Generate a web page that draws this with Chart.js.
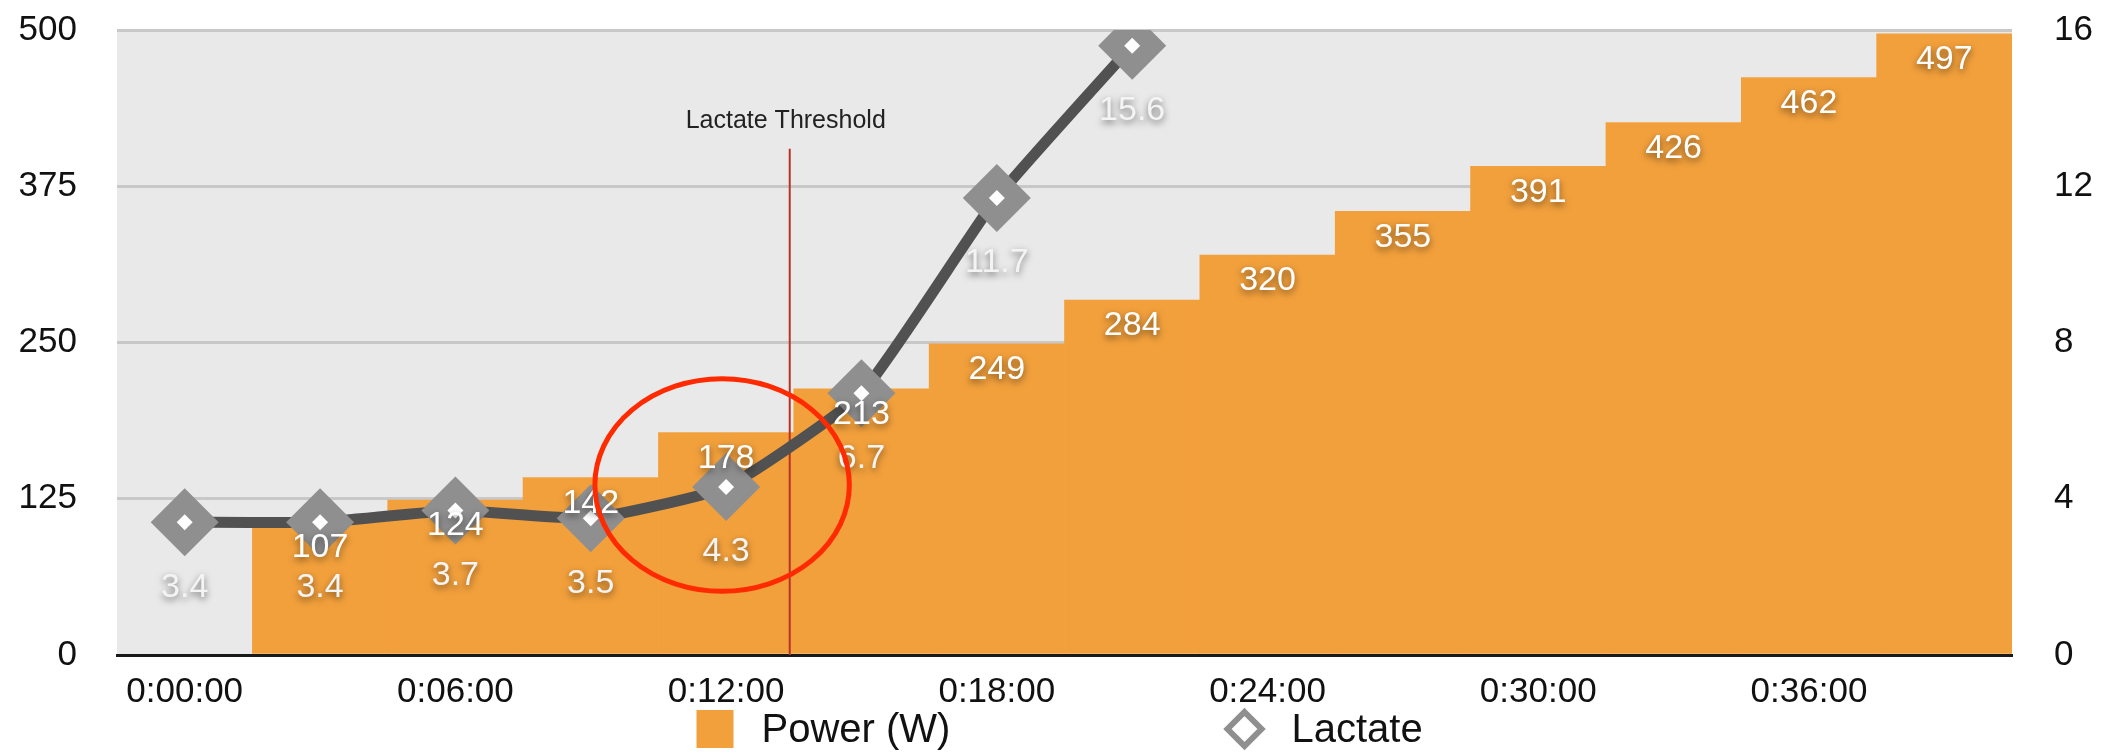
<!DOCTYPE html>
<html>
<head>
<meta charset="utf-8">
<script src="https://cdn.jsdelivr.net/npm/chart.js@4"></script>
<style>
  body { margin: 0; background: #fff; }
  #wrap { width: 2105px; height: 756px; }
</style>
</head>
<body>
<div id="wrap"><canvas id="chartCanvas"></canvas></div>
<script>
// time stamps of each step (3 min steps), only every other one is labelled
const times = ["0:00:00", "0:03:00", "0:06:00", "0:09:00", "0:12:00", "0:15:00", "0:18:00",
               "0:21:00", "0:24:00", "0:27:00", "0:30:00", "0:33:00", "0:36:00", "0:39:00"];
const power = [null, 107, 124, 142, 178, 213, 249, 284, 320, 355, 391, 426, 462, 497];
const lactate = [3.4, 3.4, 3.7, 3.5, 4.3, 6.7, 11.7, 15.6, null, null, null, null, null, null];
const powerTicks = [0, 125, 250, 375, 500];
const lactateTicks = [0, 4, 8, 12, 16];

// lactate threshold marker (category position) and the circled point
const thresholdAt = 4.47;
const thresholdTop = 405;
const thresholdLabel = "Lactate Threshold";
const circledPoint = 4;

const FONT = "'Liberation Sans', Arial, Helvetica, sans-serif";
const ORANGE = "#f2a03c";
const GREY = "#8f8f8f";

function shadowText(ctx, text, x, y, color) {
    ctx.save();
    ctx.shadowColor = "rgba(0,0,0,0.55)";
    ctx.shadowBlur = 7;
    ctx.shadowOffsetY = 3;
    ctx.fillStyle = color;
    ctx.fillText(text, x, y);
    ctx.restore();
}

// keep axis boxes to a fixed size, no extra label padding
function fixBox(w, h) {
    return s => {
        if (w) s.width = w;
        if (h) s.height = h;
        s.paddingTop = 0; s.paddingBottom = 0;
        s.paddingLeft = 0; s.paddingRight = 0;
    };
}

const extras = {
    id: "extras",
    beforeDraw(chart) {
        const { ctx, chartArea: a } = chart;
        ctx.save();
        ctx.fillStyle = "#e9e9e9";
        ctx.fillRect(a.left, a.top, a.right - a.left, a.bottom - a.top);
        ctx.restore();
    },
    afterDatasetDraw(chart, args) {
        if (args.index !== 0) return;
        // threshold line sits above the bars but under the lactate line
        const { ctx, scales } = chart;
        const x0 = scales.x.getPixelForValue(Math.floor(thresholdAt));
        const x1 = scales.x.getPixelForValue(Math.floor(thresholdAt) + 1);
        const x = x0 + (x1 - x0) * (thresholdAt - Math.floor(thresholdAt));
        const top = scales.y.getPixelForValue(thresholdTop);
        ctx.save();
        ctx.strokeStyle = "#b8322a";
        ctx.lineWidth = 2;
        ctx.beginPath();
        ctx.moveTo(x, top);
        ctx.lineTo(x, scales.y.getPixelForValue(0));
        ctx.stroke();
        ctx.fillStyle = "#222";
        ctx.font = "25px " + FONT;
        ctx.textAlign = "center";
        ctx.textBaseline = "middle";
        ctx.fillText(thresholdLabel, x - 4, top - 28);
        ctx.restore();
    },
    afterDatasetsDraw(chart) {
        const { ctx, scales } = chart;
        ctx.save();
        ctx.textAlign = "center";
        ctx.textBaseline = "middle";
        ctx.font = "34px " + FONT;

        chart.getDatasetMeta(0).data.forEach((el, i) => {
            if (power[i] == null) return;
            shadowText(ctx, String(power[i]), el.x, el.y + 26, "#ffffff");
        });
        chart.getDatasetMeta(1).data.forEach((el, i) => {
            if (lactate[i] == null) return;
            shadowText(ctx, lactate[i].toFixed(1), el.x, el.y + 65, "#f4f4f4");
        });

        // red circle round the threshold point
        const p = chart.getDatasetMeta(1).data[circledPoint];
        const cw = scales.x.getPixelForValue(1) - scales.x.getPixelForValue(0);
        const ry = scales.y1.getPixelForValue(0) - scales.y1.getPixelForValue(2.72);
        ctx.strokeStyle = "#ff2a00";
        ctx.lineWidth = 5;
        ctx.beginPath();
        ctx.ellipse(p.x - 4, p.y - 2, cw * 0.94, ry, 0, 0, Math.PI * 2);
        ctx.stroke();
        ctx.restore();
    },
    afterDraw(chart) {
        // legend
        const ctx = chart.ctx;
        const cx = chart.width / 2;
        const y = 729;
        ctx.save();
        ctx.font = "40px " + FONT;
        ctx.textBaseline = "middle";
        ctx.fillStyle = ORANGE;
        ctx.fillRect(cx - 356, y - 19, 37, 38);
        ctx.fillStyle = "#111";
        ctx.fillText(chart.data.datasets[0].label, cx - 291, y + 2);
        ctx.strokeStyle = GREY;
        ctx.lineWidth = 6;
        const dx = cx + 192;
        ctx.beginPath();
        ctx.moveTo(dx, y - 17);
        ctx.lineTo(dx + 17, y);
        ctx.lineTo(dx, y + 17);
        ctx.lineTo(dx - 17, y);
        ctx.closePath();
        ctx.stroke();
        ctx.fillStyle = "#111";
        ctx.fillText(chart.data.datasets[1].label, cx + 239, y + 2);
        ctx.restore();
    }
};

const ctx = document.getElementById("chartCanvas").getContext("2d");
new Chart(ctx, {
    type: "bar",
    data: {
        labels: times,
        datasets: [
            {
                label: "Power (W)",
                data: power,
                backgroundColor: ORANGE,
                borderWidth: 0,
                barPercentage: 1,
                categoryPercentage: 1,
                yAxisID: "y",
                order: 2
            },
            {
                label: "Lactate",
                type: "line",
                data: lactate,
                borderColor: "#515151",
                borderWidth: 11,
                tension: 0.15,
                pointStyle: "rectRot",
                pointRadius: 34,
                pointBackgroundColor: GREY,
                pointBorderWidth: 0,
                yAxisID: "y1",
                order: 1
            },
            {
                label: "inner",
                type: "line",
                data: lactate,
                showLine: false,
                pointStyle: "rectRot",
                pointRadius: 8,
                pointBackgroundColor: "#ffffff",
                pointBorderWidth: 0,
                yAxisID: "y1",
                order: 0
            }
        ]
    },
    options: {
        responsive: true,
        maintainAspectRatio: false,
        animation: false,
        devicePixelRatio: 1,
        layout: { autoPadding: false, padding: { top: 30, left: 18, right: 12, bottom: 43 } },
        plugins: {
            legend: { display: false },
            tooltip: { enabled: false }
        },
        scales: {
            x: {
                offset: true,
                afterFit: fixBox(0, 58),
                grid: { display: false, drawTicks: false },
                border: { display: true, color: "#1a1a1a", width: 3 },
                ticks: {
                    autoSkip: false,
                    maxRotation: 0,
                    padding: 16,
                    color: "#111",
                    font: { family: FONT, size: 35 },
                    callback: (v, i) => (i % 2 === 0 ? times[i] : "")
                }
            },
            y: {
                position: "left",
                min: powerTicks[0],
                max: powerTicks[powerTicks.length - 1],
                afterBuildTicks: s => { s.ticks = powerTicks.map(v => ({ value: v })); },
                afterFit: fixBox(99, 0),
                grid: {
                    drawTicks: false,
                    lineWidth: 3,
                    color: c => (c.tick.value === 0 ? "rgba(0,0,0,0)" : "#c8c8c8")
                },
                border: { display: false },
                ticks: { padding: 40, color: "#111", font: { family: FONT, size: 35 } }
            },
            y1: {
                position: "right",
                min: lactateTicks[0],
                max: lactateTicks[lactateTicks.length - 1],
                afterBuildTicks: s => { s.ticks = lactateTicks.map(v => ({ value: v })); },
                afterFit: fixBox(81, 0),
                grid: { drawOnChartArea: false, drawTicks: false },
                border: { display: false },
                ticks: { padding: 42, color: "#111", font: { family: FONT, size: 35 } }
            }
        }
    },
    plugins: [extras]
});
</script>
</body>
</html>
